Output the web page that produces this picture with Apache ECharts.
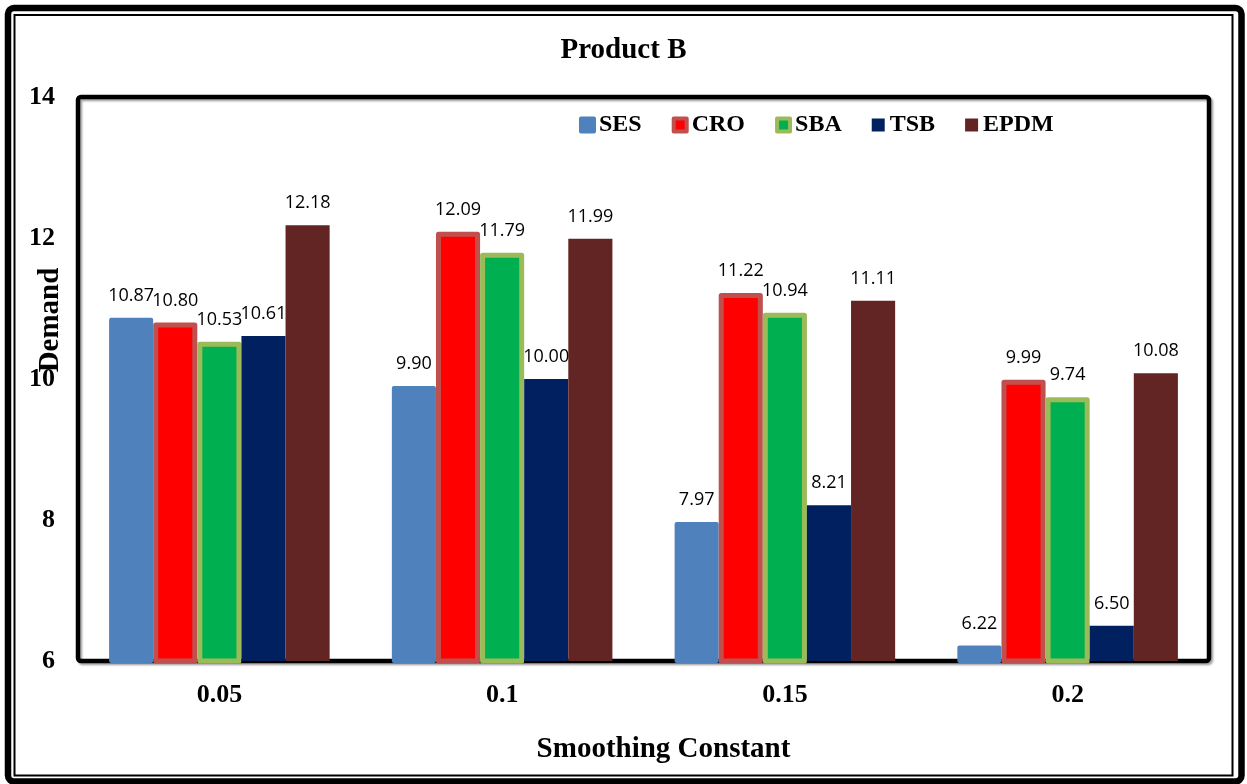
<!DOCTYPE html>
<html>
<head>
<meta charset="utf-8">
<title>Product B</title>
<script src="https://cdn.jsdelivr.net/npm/echarts@6/dist/echarts.min.js"></script>
<style>
  html, body { margin: 0; padding: 0; background: #ffffff; }
  #chart { width: 1247px; height: 784px; }
</style>
</head>
<body>
<div id="chart"></div>
<script>
// Smoothing constants on the x axis
const categories = ['0.05', '0.1', '0.15', '0.2'];

// Demand per method at each smoothing constant
const sesValues  = [10.87, 9.90, 7.97, 6.22];
const croValues  = [10.80, 12.09, 11.22, 9.99];
const sbaValues  = [10.53, 11.79, 10.94, 9.74];
const tsbValues  = [10.61, 10.00, 8.21, 6.50];
const epdmValues = [12.18, 11.99, 11.11, 10.08];

// Value axis range and step
const yMin = 6;
const yMax = 14;
const yStep = 2;

const serifFont = '"Liberation Serif", "Times New Roman", serif';
const labelFont = '"Open Sans", "Liberation Sans", sans-serif';

// Grid rectangle (pixels)
const gridLeft = 78, gridTop = 97, gridRight = 38, gridBottom = 123;
const W = 1247, H = 784;

const methods = [
  { name: 'SES',  data: sesValues,  fill: '#4F81BD', border: '#4F81BD', bw: 4 },
  { name: 'CRO',  data: croValues,  fill: '#FF0000', border: '#C0504D', bw: 5 },
  { name: 'SBA',  data: sbaValues,  fill: '#00B050', border: '#9BBB59', bw: 5 },
  { name: 'TSB',  data: tsbValues,  fill: '#002060', border: '#002060', bw: 0 },
  { name: 'EPDM', data: epdmValues, fill: '#632523', border: '#632523', bw: 0 }
];

const series = methods.map(m => ({
  name: m.name,
  type: 'bar',
  data: m.data,
  barGap: '0%',
  barCategoryGap: '22%',
  itemStyle: {
    color: m.fill,
    borderColor: m.border,
    borderWidth: m.bw,
    borderJoin: 'round'
  },
  label: {
    show: true,
    position: 'top',
    distance: 13,
    fontFamily: labelFont,
    fontSize: 18,
    color: '#000000',
    formatter: p => p.value.toFixed(2)
  },
  z: 3
}));

const legendData = methods.map(m => ({
  name: m.name,
  icon: 'rect',
  itemStyle: {
    color: m.fill,
    borderColor: m.border,
    borderWidth: m.bw ? 4 : 0,
    borderJoin: 'round'
  }
}));

const chart = echarts.init(document.getElementById('chart'), null, { renderer: 'canvas' });

chart.setOption({
  backgroundColor: '#ffffff',
  animation: false,
  title: {
    text: 'Product B',
    left: 'center',
    top: 31,
    textStyle: { fontFamily: serifFont, fontWeight: 'bold', fontSize: 29, color: '#000000' }
  },
  legend: {
    data: legendData,
    left: 579,
    top: 113,
    padding: 0,
    itemWidth: 13,
    itemHeight: 13,
    itemGap: 30,
    textStyle: { fontFamily: serifFont, fontWeight: 'bold', fontSize: 24, color: '#000000' }
  },
  grid: {
    left: gridLeft,
    top: gridTop,
    right: gridRight,
    bottom: gridBottom,
    containLabel: false,
    outerBoundsMode: 'none'
  },
  xAxis: {
    type: 'category',
    data: categories,
    name: 'Smoothing Constant',
    nameLocation: 'middle',
    nameGap: 74,
    nameMoveOverlap: false,
    nameTextStyle: {
      fontFamily: serifFont, fontWeight: 'bold', fontSize: 29, color: '#000000',
      padding: [0, 0, 0, 40]
    },
    axisLine: { show: false },
    axisTick: { show: false },
    axisLabel: {
      margin: 21,
      fontFamily: serifFont, fontWeight: 'bold', fontSize: 26, color: '#000000'
    },
    splitLine: { show: false }
  },
  yAxis: {
    type: 'value',
    min: yMin,
    max: yMax,
    interval: yStep,
    name: 'Demand',
    nameLocation: 'middle',
    nameRotate: 90,
    nameGap: 13,
    nameMoveOverlap: false,
    nameTextStyle: {
      fontFamily: serifFont, fontWeight: 'bold', fontSize: 29, color: '#000000',
      padding: [0, 0, 0, 118]
    },
    axisLine: { show: false },
    axisTick: { show: false },
    axisLabel: {
      margin: 23,
      fontFamily: serifFont, fontWeight: 'bold', fontSize: 26, color: '#000000'
    },
    splitLine: { show: false }
  },
  graphic: [
    // plot frame, drawn under the bars
    {
      type: 'rect',
      z: 1,
      silent: true,
      shape: { x: gridLeft, y: gridTop, width: W - gridLeft - gridRight, height: H - gridTop - gridBottom, r: 3 },
      style: {
        fill: null,
        stroke: '#000000',
        lineWidth: 4.5,
        shadowColor: 'rgba(0,0,0,0.35)',
        shadowBlur: 2,
        shadowOffsetX: 2,
        shadowOffsetY: 2
      }
    },
    // outer thick border
    {
      type: 'rect',
      z: 1,
      silent: true,
      shape: { x: 8, y: 8, width: 1233.5, height: 773.5, r: 6 },
      style: { fill: null, stroke: '#000000', lineWidth: 6.5 }
    },
    // inner thin border
    {
      type: 'rect',
      z: 1,
      silent: true,
      shape: { x: 14.5, y: 15, width: 1218, height: 760.5 },
      style: { fill: null, stroke: '#000000', lineWidth: 2 }
    }
  ],
  series: series
});
</script>
</body>
</html>
